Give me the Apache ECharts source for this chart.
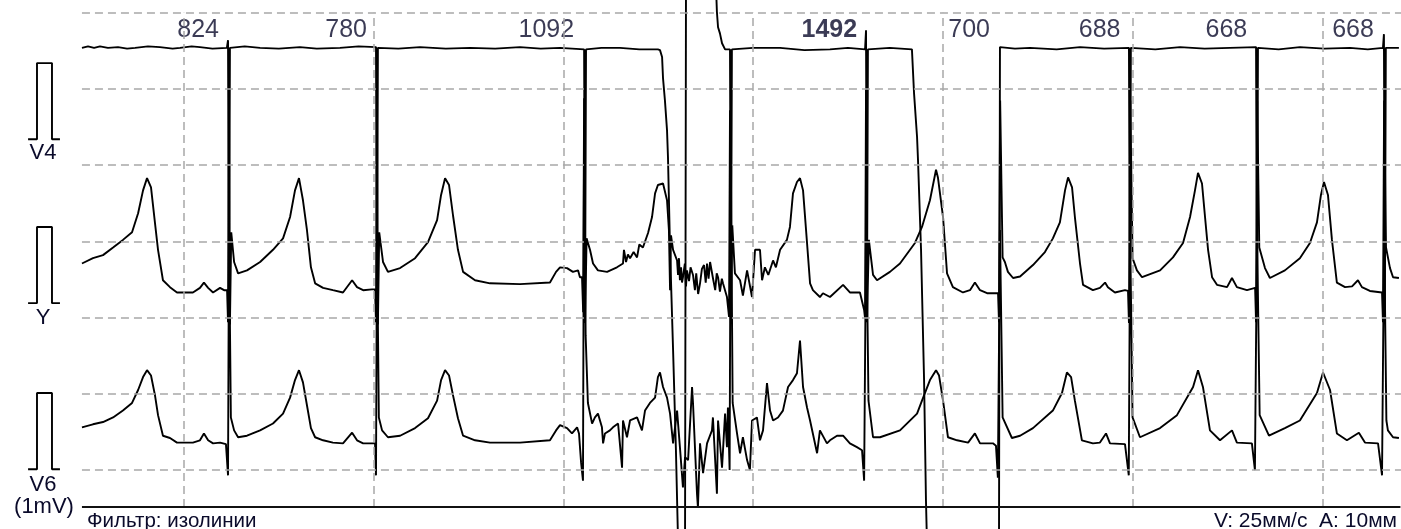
<!DOCTYPE html>
<html><head><meta charset="utf-8">
<script src="https://cdn.jsdelivr.net/npm/echarts@6/dist/echarts.min.js"></script>
<style>html,body{margin:0;padding:0;background:#fff}#c{width:1401px;height:529px}</style>
</head><body><div id="c"></div>
<script>
// ---- DATA (time in ms, amplitude in mV relative to each lead's isoline) ----
const channelNames = ['V4', 'Y', 'V6'];
const rrIntervals = ['824', '780', '1092', '1492', '700', '688', '668', '668'];
const rrBeatTimes = [237, 1017, 2109, 3601, 4301, 4989, 5657, 6325];
const rrLongest = '1492';

const v4Trace = [[-538,-0.01],[-506,0.01],[-474,-0.01],[-443,0.01],[-401,-0.01],[-348,0],[-300,-0.02],[-258,-0.01],[-190,0.01],[-127,0],[-60,-0.02],[-21,-0.01],[40,0.01],[84,0],[150,-0.02],[226,-0.01],[232,0.09],[237,-3.45],[242,-0.01],[320,0.01],[401,-0.01],[500,-0.02],[611,0],[700,-0.02],[822,-0.01],[920,0.01],[1012,0],[1017,-3.45],[1022,-0.01],[1130,-0.02],[1244,0],[1380,-0.02],[1508,-0.01],[1640,-0.02],[1771,0],[1880,-0.02],[1982,-0.01],[2109,-0.03],[2114,-3.45],[2119,-0.03],[2200,-0.01],[2298,-0.01],[2400,-0.03],[2498,-0.03],[2509,-0.04],[2520,-0.13],[2525,-0.41],[2535,-0.7],[2546,-1.09],[2551,-1.44],[2562,-2.66],[2578,-3.98],[2593,-5.29],[2604,-6.47],[2641,-6.47],[2646,0.81],[2804,0.81],[2809,0.46],[2815,0.26],[2825,0.18],[2836,0.05],[2852,-0.03],[2878,-0.03],[2883,-3.45],[2888,-0.03],[3000,-0.01],[3142,-0.01],[3270,-0.04],[3405,-0.03],[3500,-0.01],[3590,-0.03],[3595,0.22],[3600,-3.45],[3605,-0.03],[3720,-0.01],[3837,-0.03],[3843,-0.04],[3848,-0.6],[3864,-1.18],[3869,-1.48],[3885,-2.66],[3901,-4.37],[3911,-5.95],[3916,-6.47],[4296,-6.47],[4301,0],[4380,-0.02],[4459,-0.01],[4600,-0.03],[4723,0],[4850,-0.02],[4981,-0.01],[4986,-3.45],[4991,-0.01],[5120,-0.03],[5250,0],[5380,-0.02],[5513,-0.01],[5651,0],[5656,-3.45],[5661,-0.01],[5770,-0.03],[5882,0],[6010,-0.02],[6146,-0.01],[6240,-0.03],[6320,-0.01],[6325,0.17],[6330,-3.45],[6335,-0.01],[6404,-0.01]];

const yTrace = [[-538,0.35],[-480,0.42],[-427,0.46],[-374,0.56],[-322,0.66],[-274,0.76],[-242,1.01],[-216,1.31],[-195,1.47],[-174,1.35],[-153,0.88],[-137,0.53],[-111,0.13],[-74,0.04],[-37,-0.03],[47,-0.03],[84,0.03],[105,0.1],[127,0.03],[153,-0.03],[190,0.03],[211,0],
[227,0],[232,-0.42],[237,2.49],[242,-0.45],[249,0.76],[264,0.37],[285,0.22],[332,0.26],[401,0.37],[469,0.53],[522,0.68],[559,0.96],[585,1.31],[606,1.47],[627,1.18],[648,0.79],[669,0.3],[691,0.09],[733,0.03],[785,0],[838,-0.03],[886,0.13],[912,0.04],[944,0],[991,0.01],
[1007,0.01],[1012,-0.42],[1017,2.49],[1022,-0.45],[1029,0.76],[1049,0.37],[1075,0.24],[1139,0.29],[1218,0.42],[1286,0.63],[1334,0.92],[1355,1.25],[1376,1.47],[1397,1.38],[1418,0.98],[1444,0.53],[1471,0.24],[1534,0.13],[1613,0.09],[1771,0.08],[1929,0.1],[1961,0.24],[1982,0.3],[2019,0.29],[2050,0.24],[2077,0.26],[2087,0.17],
[2098,0.17],[2104,-0.29],[2109,2.52],[2114,-0.43],[2122,0.68],[2140,0.53],[2156,0.35],[2182,0.26],[2230,0.24],[2282,0.3],[2314,0.35],[2319,0.53],[2330,0.37],[2340,0.47],[2351,0.42],[2370,0.5],[2388,0.43],[2400,0.6],[2419,0.56],[2446,0.75],[2467,0.96],[2483,1.27],[2498,1.38],[2525,1.4],[2546,1.18],[2556,0.79],[2562,0],[2567,0.72],[2578,0.53],[2599,0.39],[2604,0.2],[2609,0.42],[2614,0.13],[2620,0.3],[2625,0.1],[2630,0.17],[2640,0.35],[2646,0.05],[2651,0.26],[2662,0.12],[2670,0.3],[2683,0.2],[2693,0],[2700,0.22],[2710,-0.05],[2720,0.09],[2730,0.28],[2741,0.33],[2750,0.1],[2757,0.35],[2765,0.15],[2773,0.37],[2788,0.16],[2800,0],[2808,0.22],[2815,0.17],[2825,-0.02],[2835,0.15],[2841,0.09],[2862,-0.09],[2873,-0.35],
[2878,2.36],[2883,-0.42],[2890,0.85],[2904,0.22],[2931,0.13],[2946,-0.07],[2968,0.26],[2994,-0.09],[3010,0.53],[3036,0.53],[3047,0.13],[3062,0.3],[3080,0.2],[3105,0.39],[3120,0.3],[3142,0.53],[3178,0.66],[3194,0.83],[3210,1.27],[3231,1.42],[3247,1.47],[3263,1.31],[3284,0.62],[3300,0.09],[3315,0],[3352,-0.09],[3368,-0.04],[3405,-0.09],[3474,0.07],[3510,-0.03],[3563,-0.03],[3585,-0.26],
[3590,-0.37],[3595,2.63],[3600,-0.42],[3610,0.66],[3632,0.2],[3653,0.13],[3721,0.24],[3774,0.35],[3853,0.62],[3890,0.83],[3932,1.18],[3964,1.58],[3974,1.48],[4001,0.96],[4022,0.22],[4053,0.04],[4106,-0.03],[4143,0],[4169,0.1],[4196,0],[4233,-0.04],[4291,-0.04],
[4296,-0.42],[4302,2.49],[4315,0.43],[4327,0.37],[4343,0.24],[4370,0.16],[4407,0.18],[4475,0.33],[4538,0.5],[4580,0.68],[4617,0.89],[4644,1.31],[4660,1.48],[4681,1.35],[4696,0.96],[4723,0.35],[4739,0.07],[4791,0],[4828,0.03],[4855,0.1],[4870,0.04],[4907,-0.03],[4960,0],[4976,-0.01],
[4981,-0.43],[4988,2.49],[5000,0.42],[5023,0.26],[5050,0.17],[5145,0.26],[5213,0.43],[5266,0.62],[5303,0.96],[5329,1.31],[5345,1.54],[5366,1.4],[5382,0.96],[5398,0.53],[5419,0.17],[5445,0.07],[5498,0.04],[5524,0.16],[5550,0.04],[5603,0],[5646,0.03],
[5651,-0.42],[5657,2.49],[5668,0.56],[5698,0.29],[5724,0.16],[5803,0.26],[5882,0.42],[5935,0.62],[5972,0.89],[5993,1.25],[6009,1.42],[6030,1.25],[6051,0.66],[6077,0.1],[6120,0.04],[6157,0.05],[6188,0.13],[6209,0.04],[6251,-0.01],[6315,-0.03],
[6320,-0.42],[6326,2.49],[6336,0.56],[6357,0.29],[6373,0.17],[6404,0.16]];

const v6Trace = [[-538,0.21],[-480,0.25],[-427,0.28],[-374,0.34],[-322,0.43],[-274,0.53],[-242,0.7],[-216,0.87],[-195,0.96],[-174,0.89],[-153,0.63],[-137,0.37],[-111,0.1],[-74,0.07],[-37,0.01],[47,0.01],[84,0.04],[105,0.13],[127,0.04],[153,0],[190,0.01],[221,-0.01],
[232,-0.42],[237,2.8],[247,0.34],[264,0.17],[285,0.08],[332,0.1],[401,0.17],[469,0.26],[522,0.39],[559,0.6],[585,0.83],[606,0.96],[627,0.8],[648,0.5],[669,0.2],[691,0.08],[733,0.04],[785,0.01],[838,0],[886,0.14],[912,0.04],[944,0],[1007,0],
[1012,-0.42],[1017,2.8],[1027,0.34],[1044,0.17],[1075,0.08],[1139,0.1],[1218,0.2],[1286,0.33],[1334,0.56],[1355,0.83],[1376,0.96],[1397,0.89],[1418,0.63],[1444,0.33],[1471,0.1],[1534,0.04],[1613,0.01],[1771,0.01],[1929,0.04],[1961,0.17],[1982,0.24],[2019,0.2],[2045,0.13],[2072,0.21],[2082,0.13],[2093,-0.25],
[2103,-0.49],[2109,4.17],[2117,1.42],[2129,0.53],[2151,0.26],[2166,0.34],[2182,0.39],[2203,0.21],[2209,0],[2219,0.13],[2245,0.17],[2261,0.21],[2288,0.26],[2309,-0.32],[2314,0.3],[2335,0.08],[2351,0.3],[2388,0.34],[2414,0.17],[2430,0.43],[2456,0.53],[2483,0.6],[2498,0.87],[2509,0.93],[2525,0.74],[2546,0.6],[2562,0.39],[2578,0],[2599,0.43],[2614,-0.05],[2630,-0.58],[2641,-0.18],[2657,-0.22],[2678,0.74],[2683,0.53],[2704,-0.66],[2709,-0.84],[2720,0],[2736,-0.39],[2757,0],[2783,0.17],[2788,0.34],[2809,-0.66],[2815,0.3],[2836,-0.32],[2852,0.39],[2862,-0.05],[2867,0.47],
[2876,-0.35],[2882,3.85],[2892,0.53],[2915,0.13],[2931,-0.13],[2946,0.08],[2968,-0.22],[2983,-0.35],[2994,0.3],[3020,0.34],[3036,0.04],[3052,0.17],[3073,0.79],[3089,0.43],[3105,0.3],[3131,0.34],[3157,0.43],[3184,0.74],[3210,0.83],[3231,0.92],[3247,1.35],[3263,0.74],[3284,0.47],[3300,0.3],[3337,-0.13],[3352,0.17],[3389,0],[3405,0.04],[3442,0.1],[3474,0.1],[3510,0],[3547,-0.05],[3574,-0.09],[3585,-0.49],
[3596,3.06],[3608,0.56],[3632,0.08],[3669,0.08],[3774,0.17],[3864,0.39],[3890,0.56],[3932,0.83],[3964,0.96],[3980,0.89],[4001,0.56],[4027,0.08],[4075,0.04],[4133,0.01],[4169,0.13],[4196,0],[4264,0],[4280,-0.03],[4290,-0.45],
[4301,2.8],[4315,0.34],[4364,0.07],[4407,0.1],[4475,0.2],[4580,0.43],[4628,0.66],[4654,0.93],[4676,0.87],[4696,0.56],[4733,0.04],[4791,0],[4828,0.01],[4860,0.13],[4881,0],[4960,-0.01],[4980,-0.42],
[4987,2.8],[5000,0.34],[5039,0.08],[5145,0.2],[5234,0.37],[5319,0.74],[5345,0.96],[5371,0.74],[5408,0.17],[5461,0.04],[5524,0.17],[5550,0.01],[5629,0],[5645,-0.35],
[5656,2.8],[5670,0.37],[5719,0.1],[5803,0.2],[5882,0.3],[5972,0.66],[6004,0.93],[6041,0.7],[6077,0.13],[6130,0.04],[6193,0.14],[6225,0.01],[6294,0],[6315,-0.42],
[6326,2.8],[6338,0.3],[6346,0.17],[6373,0.08],[6404,0.07]];

const calPulseMv = 1;              // calibration pulse amplitude
const calPulseTimes = [-822, -775, -696, -654];

// ---- LAYOUT ----
const X_MIN = -970, X_MAX = 6415, Y_MIN = -0.774, Y_MAX = 6.168;
const TRACE_START = -538;
const isoline = {V4: 5.55, Y: 2.36, V6: 0.35};
const calBase = {V4: 4.34, Y: 2.19, V6: 0.01};
const AXIS_Y = -0.486, GRID_TOP = 6;
const RR_LABEL_Y = 5.77;
const FONT = '"Liberation Sans", Arial, sans-serif';
const TXT = '#0a0a2a';

const shift = (arr, off) => arr.map(p => [p[0], +(p[1] + off).toFixed(3)]);
const traceStyle = {color: '#000', width: 1.9};

const hLines = [0,1,2,3,4,5,6].map(v => [{coord: [TRACE_START, v]}, {coord: [X_MAX, v]}]);
const vLines = [0,1000,2000,3000,4000,5000,6000].map(t => [{coord: [t, AXIS_Y]}, {coord: [t, GRID_TOP]}]);

const calSeries = channelNames.map(ch => {
  const b = calBase[ch], t = calPulseTimes;
  return {type: 'line', silent: true, symbol: 'none',
    lineStyle: {color: '#000', width: 1.9},
    data: [[t[0], b], [t[1], b], [t[1], b + calPulseMv], [t[2], b + calPulseMv], [t[2], b], [t[3], b]]};
});

const chart = echarts.init(document.getElementById('c'), null, {renderer: 'canvas'});
chart.setOption({
  animation: false,
  backgroundColor: '#fff',
  grid: {left: 0, right: 0, top: 0, bottom: 0},
  xAxis: {type: 'value', min: X_MIN, max: X_MAX, show: false},
  yAxis: {type: 'value', min: Y_MIN, max: Y_MAX, show: false},
  series: [
    {type: 'line', data: [], silent: true,
      markLine: {silent: true, symbol: 'none', label: {show: false},
        lineStyle: {color: '#a8a8a8', type: [8, 5], width: 1.5}, data: hLines.concat(vLines)}},
    {type: 'line', data: [], silent: true,
      markLine: {silent: true, symbol: ['none', 'arrow'], symbolSize: [0, 9], label: {show: false},
        lineStyle: {color: '#111', type: 'solid', width: 2},
        data: [[{coord: [TRACE_START, AXIS_Y]}, {coord: [6412, AXIS_Y]}]]}},
    ...calSeries,
    {name: 'V4', type: 'line', symbol: 'none', lineStyle: traceStyle, data: shift(v4Trace, isoline.V4)},
    {name: 'Y', type: 'line', symbol: 'none', lineStyle: traceStyle, data: shift(yTrace, isoline.Y)},
    {name: 'V6', type: 'line', symbol: 'none', lineStyle: traceStyle, data: shift(v6Trace, isoline.V6)},
    {type: 'scatter', symbolSize: 0, silent: true,
      data: rrBeatTimes.map((t, i) => ({value: [t, RR_LABEL_Y], name: rrIntervals[i],
        label: {fontWeight: rrIntervals[i] === rrLongest ? 'bold' : 'normal'}})),
      label: {show: true, position: 'left', distance: 10, formatter: p => p.name,
        fontSize: 25, fontFamily: FONT, color: TXT}}
  ],
  graphic: [
    {type: 'text', style: {text: 'V4', x: 43, y: 153, align: 'center', verticalAlign: 'middle', font: '22px ' + FONT, fill: TXT}},
    {type: 'text', style: {text: 'Y', x: 43, y: 318, align: 'center', verticalAlign: 'middle', font: '22px ' + FONT, fill: TXT}},
    {type: 'text', style: {text: 'V6', x: 43, y: 485, align: 'center', verticalAlign: 'middle', font: '22px ' + FONT, fill: TXT}},
    {type: 'text', style: {text: '(1mV)', x: 44, y: 507, align: 'center', verticalAlign: 'middle', font: '22px ' + FONT, fill: TXT}},
    {type: 'text', style: {text: 'Фильтр: изолинии', x: 87, y: 521, align: 'left', verticalAlign: 'middle', font: '20.5px ' + FONT, fill: TXT}},
    {type: 'text', style: {text: 'V: 25мм/с  A: 10мм', x: 1397, y: 521, align: 'right', verticalAlign: 'middle', font: '21px ' + FONT, fill: TXT}}
  ]
});
</script></body></html>
